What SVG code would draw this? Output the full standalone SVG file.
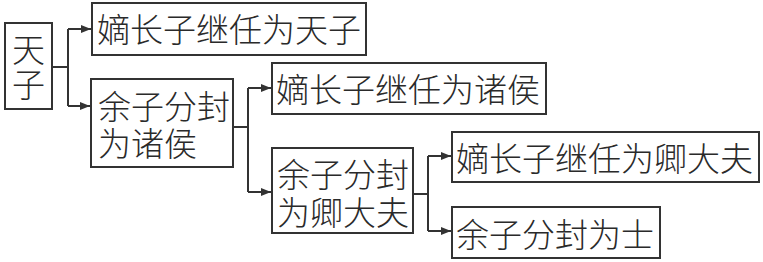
<svg xmlns="http://www.w3.org/2000/svg" width="763" height="262" viewBox="0 0 763 262">
<style>
.box{fill:#fff;stroke:#333;stroke-width:2}
.t{font-family:"Noto Sans CJK SC","Noto Sans CJK JP",sans-serif;font-size:33px;font-weight:300;fill:#2a2a2a;dominant-baseline:central}
.c{fill:none;stroke:#333;stroke-width:2}
</style>
<defs>
<marker id="ah" markerWidth="10" markerHeight="8" refX="10" refY="4" orient="auto" markerUnits="userSpaceOnUse">
<path d="M0,0 L10,4 L0,8 Z" fill="#333"/>
</marker>
</defs>
<rect width="763" height="262" fill="#fff"/>
<g id="connectors">
<path class="c" d="M52,67 H68"/>
<path class="c" d="M68,29 V106"/>
<path class="c" d="M68,29 H91" marker-end="url(#ah)"/>
<path class="c" d="M68,106 H90" marker-end="url(#ah)"/>
<path class="c" d="M233,127 H248"/>
<path class="c" d="M248,88 V192"/>
<path class="c" d="M248,88 H271" marker-end="url(#ah)"/>
<path class="c" d="M248,192 H271" marker-end="url(#ah)"/>
<path class="c" d="M413,194 H428"/>
<path class="c" d="M428,156 V231"/>
<path class="c" d="M428,156 H451" marker-end="url(#ah)"/>
<path class="c" d="M428,231 H451" marker-end="url(#ah)"/>
</g>
<g id="tianzi">
<rect class="box" x="5" y="23" width="47" height="86"/>
<text class="t" text-anchor="middle"><tspan x="28.5" y="48">天</tspan><tspan x="28.5" y="83">子</tspan></text>
</g>
<g id="dizhang1">
<rect class="box" x="92" y="3" width="274" height="52"/>
<text class="t" x="97" y="28">嫡长子继任为天子</text>
</g>
<g id="yuzi1">
<rect class="box" x="91" y="79" width="142" height="88"/>
<text class="t"><tspan x="98" y="105">余子分封</tspan><tspan x="98" y="142">为诸侯</tspan></text>
</g>
<g id="dizhang2">
<rect class="box" x="272" y="63" width="274" height="51"/>
<text class="t" x="276" y="88">嫡长子继任为诸侯</text>
</g>
<g id="yuzi2">
<rect class="box" x="272" y="148" width="141" height="85"/>
<text class="t"><tspan x="277" y="173">余子分封</tspan><tspan x="277" y="211">为卿大夫</tspan></text>
</g>
<g id="dizhang3">
<rect class="box" x="452" y="132" width="307" height="50"/>
<text class="t" x="456" y="157">嫡长子继任为卿大夫</text>
</g>
<g id="yuzi3">
<rect class="box" x="452" y="207" width="208" height="51"/>
<text class="t" x="456" y="233">余子分封为士</text>
</g>
</svg>
